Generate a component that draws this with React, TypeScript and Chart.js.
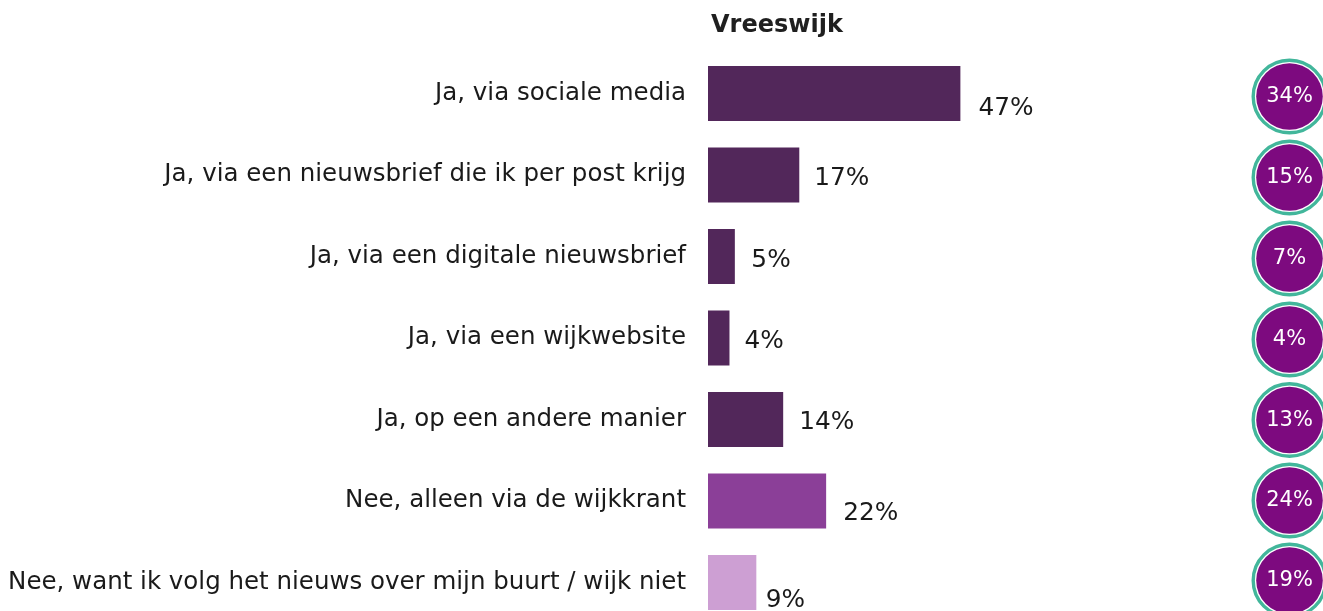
import React, { useEffect, useRef } from "react";
import { Chart, registerables } from "chart.js";

Chart.register(...registerables);

const TITLE = "Vreeswijk";
const categories = [
  "Ja, via sociale media",
  "Ja, via een nieuwsbrief die ik per post krijg",
  "Ja, via een digitale nieuwsbrief",
  "Ja, via een wijkwebsite",
  "Ja, op een andere manier",
  "Nee, alleen via de wijkkrant",
  "Nee, want ik volg het nieuws over mijn buurt / wijk niet",
];
const values = [47, 17, 5, 4, 14, 22, 9];
const comparisonValues = [34, 15, 7, 4, 13, 24, 19];
const barColors = ["#52275a", "#52275a", "#52275a", "#52275a", "#52275a", "#8b3f98", "#cd9fd3"];

// style-only placement tweaks for the value labels and the comparison circles
const LABEL_DX = [18, 15, 16.5, 15, 16, 17, 9.5];
const LABEL_DY = [21, 10, 10.5, 10, 9.5, 19, 24];
const CIRCLE_DY = [3, 2.5, 2, 1.5, 0.5, -0.5, -2];

const FONT = "'DejaVu Sans', Verdana, sans-serif";

const overlayPlugin = {
  id: "overlay",
  afterDatasetsDraw(chart: any) {
    const { ctx, chartArea } = chart;
    ctx.save();
    // title
    ctx.font = `bold 24px ${FONT}`;
    ctx.fillStyle = "#1f1f1f";
    ctx.textAlign = "left";
    ctx.textBaseline = "alphabetic";
    ctx.fillText(TITLE, chartArea.left + 3, 24.3);

    const meta = chart.getDatasetMeta(0);
    meta.data.forEach((bar: any, i: number) => {
      const { x, y } = bar.getProps(["x", "y"], true);
      ctx.font = `24.8px ${FONT}`;
      ctx.fillStyle = "#1a1a1a";
      ctx.textAlign = "left";
      ctx.textBaseline = "alphabetic";
      ctx.fillText(`${values[i]}%`, x + LABEL_DX[i], y + LABEL_DY[i]);

      const cx = chartArea.right + 44.5;
      const cy = y + CIRCLE_DY[i];
      ctx.beginPath();
      ctx.arc(cx, cy, 36.3, 0, Math.PI * 2);
      ctx.lineWidth = 3.4;
      ctx.strokeStyle = "#42b69b";
      ctx.stroke();
      ctx.beginPath();
      ctx.arc(cx, cy, 33.3, 0, Math.PI * 2);
      ctx.fillStyle = "#7d0a7f";
      ctx.fill();
      ctx.font = `21px ${FONT}`;
      ctx.fillStyle = "#ffffff";
      ctx.textAlign = "center";
      ctx.textBaseline = "middle";
      ctx.fillText(`${comparisonValues[i]}%`, cx, cy + 0.5);
    });
    ctx.restore();
  },
};

const W = 1330;
const H = 660;

export default function App() {
  const ref = useRef<HTMLCanvasElement | null>(null);
  useEffect(() => {
    if (!ref.current) return;
    const chart = new Chart(ref.current, {
      type: "bar",
      data: {
        labels: categories,
        datasets: [
          {
            data: values,
            backgroundColor: barColors,
            borderWidth: 0,
            categoryPercentage: 1,
            barPercentage: 0.675,
          },
        ],
      },
      options: {
        indexAxis: "y",
        animation: false,
        responsive: false,
        maintainAspectRatio: false,
        layout: { padding: { left: 0, right: W - 1237, top: 44.75, bottom: H - 615.25 } },
        plugins: { legend: { display: false }, tooltip: { enabled: false }, title: { display: false } },
        scales: {
          x: { display: false, min: 0, max: 100 },
          y: {
            grid: { display: false, drawTicks: false },
            border: { display: false },
            ticks: {
              padding: 22,
              color: "#1a1a1a",
              font: { family: FONT, size: 24.5 },
            },
            afterFit(scale: any) {
              scale.width = 700;
            },
          },
        },
      },
      plugins: [overlayPlugin],
    } as any);
    return () => chart.destroy();
  }, []);
  return (
    <div style={{ position: "fixed", left: 0, top: 0, width: "100vw", height: "100vh", overflow: "hidden", background: "#fff" }}>
      <div style={{ position: "absolute", left: 8, top: 8, width: W, height: H }}>
        <canvas ref={ref} width={W} height={H} style={{ width: W, height: H, display: "block" }} />
      </div>
    </div>
  );
}
